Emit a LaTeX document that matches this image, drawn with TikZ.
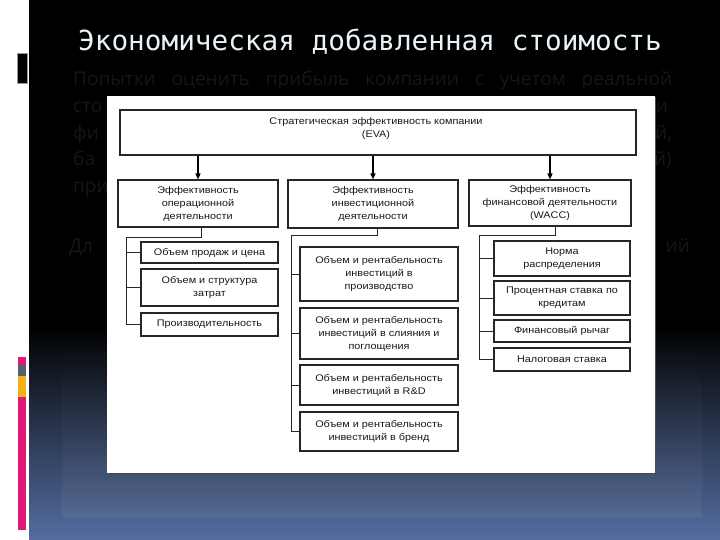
\documentclass[tikz,border=0pt]{standalone}
\usepackage{fontspec}
\setmainfont{Liberation Sans}
\newfontfamily\dfont[FakeStretch=1.13]{Liberation Sans}
\newfontfamily\titlefont{DejaVu Sans Mono}
\newfontfamily\bodyfont{Open Sans}
\usetikzlibrary{arrows.meta,fadings}
\definecolor{bgblue}{RGB}{84,110,160}
\definecolor{titlecol}{RGB}{232,244,248}
\definecolor{ghost}{RGB}{22,22,22}
\definecolor{barpink}{RGB}{224,25,118}
\definecolor{bargray}{RGB}{88,96,112}
\definecolor{baryellow}{RGB}{242,180,20}
\tikzset{
  dtext/.style={font=\dfont\fontsize{9.6}{13}\selectfont, text=black!90},
  box/.style={draw=black!85, line width=1.1pt, fill=white, inner sep=0pt,
    dtext, align=center},
  link/.style={draw=black!85, line width=0.8pt},
  arr/.style={draw=black, line width=1.3pt, -{Triangle[length=6pt,width=5pt]}},
  ghosttext/.style={text=ghost, font=\bodyfont\fontsize{19}{22}\selectfont, inner sep=0pt}
}
\begin{document}
\begin{tikzpicture}[x=1pt,y=-1pt]
\useasboundingbox (0,0) rectangle (720,540);
% slide background
\fill[white] (0,0) rectangle (720,540);
\fill[black] (29,0) rectangle (720,325);
\shade[top color=black, bottom color=bgblue] (29,325) rectangle (720,540);
\fill[white, opacity=0.05, path fading=north] (62,330) rectangle (702,518);
% left decorations
\fill[black, draw=black!40, line width=0.5pt] (17,53) rectangle (27,83);
\fill[barpink] (18,357) rectangle (26,365);
\fill[bargray] (18,365) rectangle (26,376);
\fill[baryellow] (18,376) rectangle (26,397);
\fill[barpink] (18,397) rectangle (26,530);
% title
\node[anchor=base west, inner sep=0pt, text=titlecol, font=\titlefont\fontsize{27.7}{30}\selectfont] (title) at (78,51) {Экономическая добавленная стоимость};
% ghost body text
\node[ghosttext, anchor=base west] (l1) at (73,86) {\makebox[599pt][s]{Попытки оценить прибыль компании с учетом реальной}};
\node[ghosttext, anchor=base west] (l2) at (73,113) {сто};
\node[ghosttext, anchor=base west] (l3) at (73,140) {фи};
\node[ghosttext, anchor=base west] (l4) at (73,166) {ба};
\node[ghosttext, anchor=base west] (l5) at (73,193) {при};
\node[ghosttext, anchor=base west] (l6) at (69,252) {Дл};
\node[ghosttext, anchor=base east] (r2) at (668,113) {и};
\node[ghosttext, anchor=base east] (r3) at (672,140) {й,};
\node[ghosttext, anchor=base east] (r4) at (672,166) {й)};
\node[ghosttext, anchor=base east] (r6) at (690,252) {ий};
% picture
\fill[black!70] (108,97) rectangle (656,475);
\fill[white] (107,96) rectangle (655,473);
% top
\node[box, minimum width=516pt, minimum height=45pt] (top) at (378,132.5) {};
\node[inner sep=0pt, dtext, align=center] (toptext) at (376,129) {Стратегическая эффективность компании\\(EVA)};
% level 2
\node[box, minimum width=160pt, minimum height=47pt] (A) at (198,203.5) {Эффективность\\операционной\\деятельности};
\node[box, minimum width=170pt, minimum height=48pt] (B) at (373,204) {Эффективность\\инвестиционной\\деятельности};
\node[box, minimum width=162pt, minimum height=46pt] (C) at (550,203) {Эффективность\\финансовой деятельности\\(WACC)};
\draw[arr] (top.south -| A.north) -- (A.north);
\draw[arr] (top.south -| B.north) -- (B.north);
\draw[arr] (top.south -| C.north) -- (C.north);
% level 3 left
\node[box, minimum width=137pt, minimum height=21pt] (A1) at (209.5,252.5) {Объем продаж и цена};
\node[box, minimum width=137pt, minimum height=37pt] (A2) at (209.5,287.5) {Объем и структура\\затрат};
\node[box, minimum width=137pt, minimum height=23pt] (A3) at (209.5,324.5) {Производительность};
% level 3 middle
\node[box, minimum width=158pt, minimum height=54pt] (B1) at (379,274) {Объем и рентабельность\\инвестиций в\\производство};
\node[box, minimum width=158pt, minimum height=51pt] (B2) at (379,333.5) {Объем и рентабельность\\инвестиций в слияния и\\поглощения};
\node[box, minimum width=158pt, minimum height=40pt] (B3) at (379,385) {Объем и рентабельность\\инвестиций в R\&D};
\node[box, minimum width=158pt, minimum height=39pt] (B4) at (379,431.5) {Объем и рентабельность\\инвестиций в бренд};
% level 3 right
\node[box, minimum width=136pt, minimum height=35pt] (C1) at (562,258.5) {Норма\\распределения};
\node[box, minimum width=136pt, minimum height=34pt] (C2) at (562,298) {Процентная ставка по\\кредитам};
\node[box, minimum width=136pt, minimum height=22pt] (C3) at (562,331) {Финансовый рычаг};
\node[box, minimum width=136pt, minimum height=23pt] (C4) at (562,359.5) {Налоговая ставка};
% connectors
\coordinate (aK) at (126,237);
\coordinate (bK) at (291,235);
\coordinate (cK) at (479,235);
\draw[link] ([xshift=3pt]A.south) |- (aK) |- (A3.west);
\draw[link] (A1.west) -- (A1.west -| aK);
\draw[link] (A2.west) -- (A2.west -| aK);
\draw[link] ([xshift=4pt]B.south) |- (bK) |- (B4.west);
\draw[link] (B1.west) -- (B1.west -| bK);
\draw[link] (B2.west) -- (B2.west -| bK);
\draw[link] (B3.west) -- (B3.west -| bK);
\draw[link] ([xshift=5pt]C.south) |- (cK) |- (C4.west);
\draw[link] (C1.west) -- (C1.west -| cK);
\draw[link] (C2.west) -- (C2.west -| cK);
\draw[link] (C3.west) -- (C3.west -| cK);
\end{tikzpicture}
\end{document}
